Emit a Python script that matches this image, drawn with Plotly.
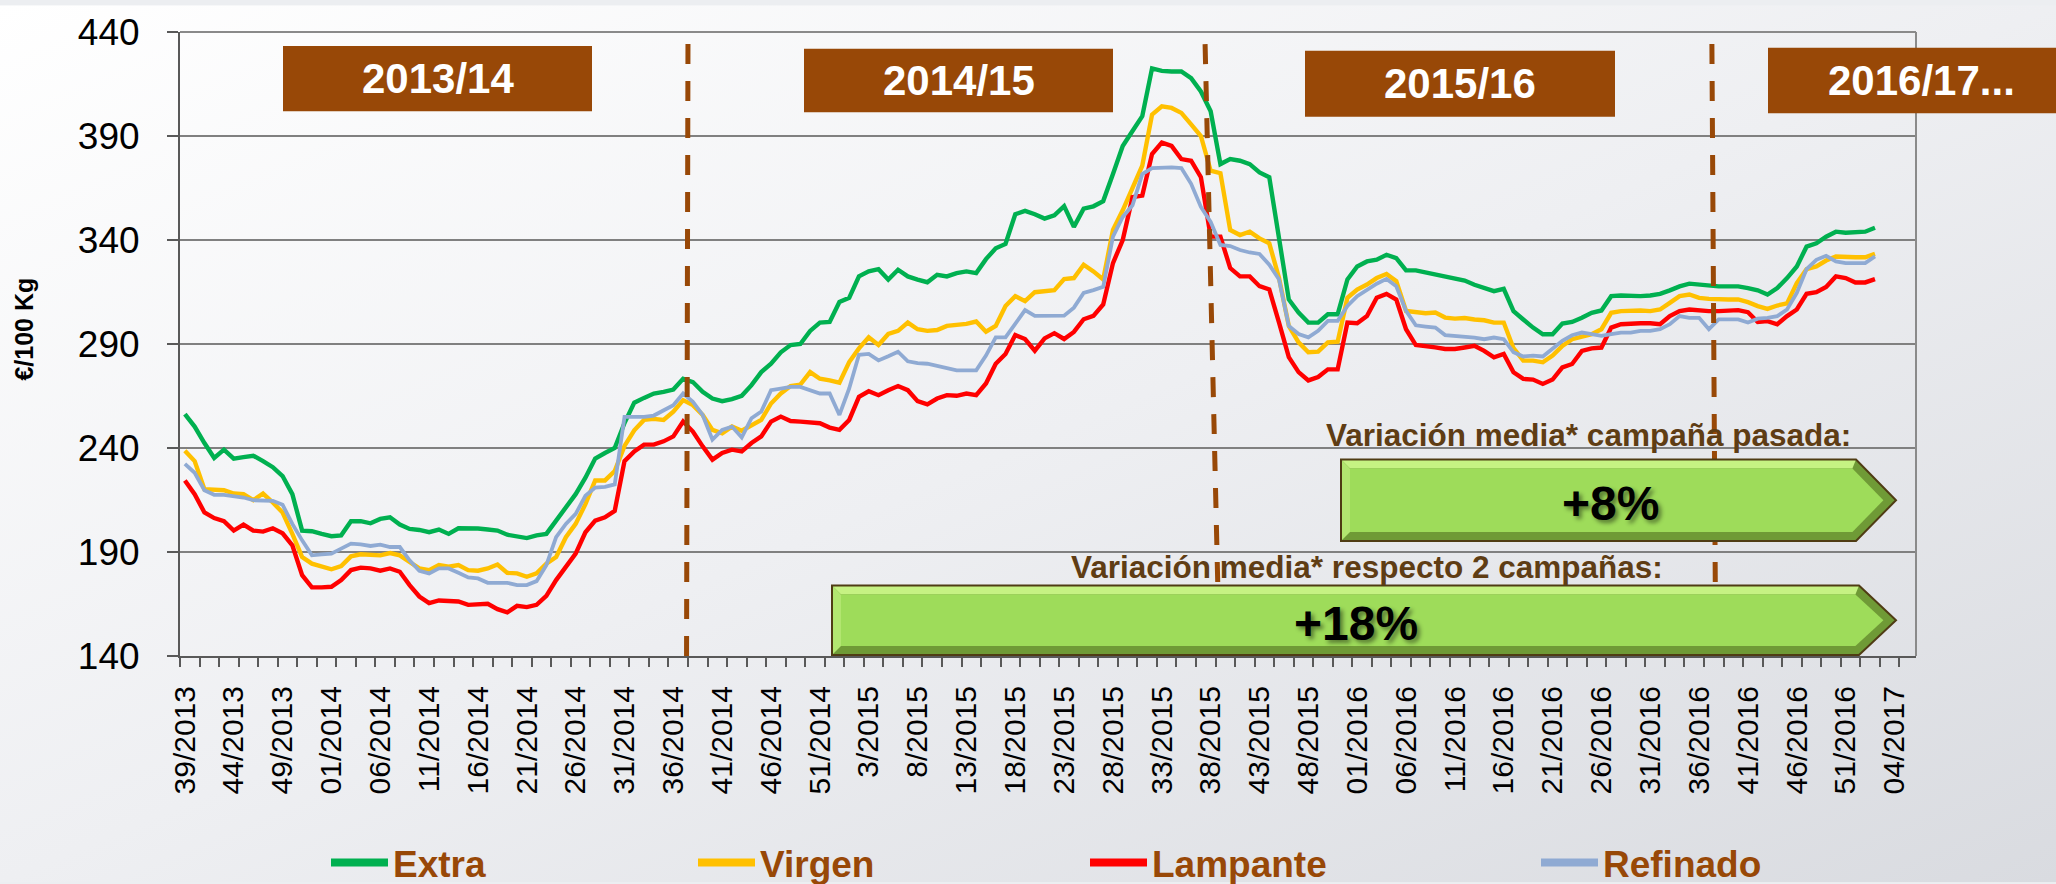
import base64
import plotly.graph_objects as go

# ---------------- data ----------------
week_labels = ["39/2013", "44/2013", "49/2013", "01/2014", "06/2014", "11/2014", "16/2014",
               "21/2014", "26/2014", "31/2014", "36/2014", "41/2014", "46/2014", "51/2014",
               "3/2015", "8/2015", "13/2015", "18/2015", "23/2015", "28/2015", "33/2015",
               "38/2015", "43/2015", "48/2015", "01/2016", "06/2016", "11/2016", "16/2016",
               "21/2016", "26/2016", "31/2016", "36/2016", "41/2016", "46/2016", "51/2016",
               "04/2017"]
label_step = 5

extra = [256.3, 250.3, 242.4, 235.2, 239.2, 234.9, 235.6, 236.3, 233.7, 230.8,
         226.5, 217.8, 200.3, 200.0, 198.7, 197.6, 198.0, 204.8, 204.8, 203.8,
         205.9, 206.7, 203.2, 201.1, 200.6, 199.5, 200.8, 198.7, 201.4, 201.4,
         201.3, 200.8, 200.3, 198.3, 197.6, 196.7, 198.0, 198.7, 205.1, 211.4,
         217.8, 225.7, 234.9, 237.6, 240.0, 252.0, 261.8, 264.1, 266.2, 267.0,
         268.1, 273.3, 271.7, 267.0, 263.8, 262.5, 263.5, 265.1, 270.2, 276.5,
         280.5, 286.0, 289.5, 290.0, 296.3, 300.3, 300.6, 310.2, 312.2, 322.5,
         324.9, 326.0, 321.0, 325.7, 322.5, 321.0, 319.7, 323.3, 322.5, 324.1,
         324.9, 324.1, 330.8, 336.0, 338.1, 352.4, 354.0, 352.4, 350.3, 351.9,
         356.3, 346.3, 355.1, 356.2, 358.7, 371.7, 385.2, 392.4, 399.5, 422.5,
         421.3, 421.0, 421.0, 417.8, 411.4, 401.9, 376.5, 378.9, 378.1, 376.5,
         372.5, 370.2, 341.6, 311.4, 305.1, 300.3, 300.3, 304.3, 304.3, 321.0,
         327.3, 329.7, 330.5, 332.9, 331.3, 325.4, 325.4, 324.4, 323.8, 322.9,
         321.7, 320.5, 318.5, 316.9, 315.4, 316.5, 305.8, 301.8, 297.9, 294.7,
         294.7, 299.8, 300.6, 302.6, 305.0, 306.1, 313.0, 313.3, 313.0, 313.0,
         313.3, 314.1, 315.8, 317.7, 319.0, 318.5, 318.1, 317.7, 317.7, 317.7,
         316.9, 315.8, 313.8, 316.9, 321.7, 327.3, 336.8, 338.4, 341.6, 344.0,
         343.5, 343.5, 344.0, 345.9]

virgen = [238.7, 233.7, 220.2, 219.7, 219.7, 218.1, 217.8, 214.9, 218.1, 213.8,
          209.0, 198.7, 187.6, 184.4, 183.2, 181.7, 183.2, 187.9, 188.9, 188.9,
          188.4, 189.5, 188.4, 185.2, 182.1, 181.3, 183.7, 182.9, 183.7, 181.3,
          181.0, 182.1, 184.0, 180.0, 179.7, 178.1, 179.7, 184.4, 187.6, 197.1,
          203.5, 213.0, 224.4, 224.4, 228.9, 241.0, 248.5, 253.5, 254.0, 253.5,
          257.5, 263.0, 260.6, 255.9, 248.7, 247.1, 250.3, 248.3, 251.1, 253.5,
          261.4, 266.2, 269.8, 270.5, 276.5, 273.3, 272.5, 271.4, 281.3, 287.9,
          293.2, 289.5, 294.8, 296.3, 300.3, 297.1, 296.3, 296.7, 298.7, 299.0,
          299.7, 300.8, 295.9, 298.7, 308.3, 313.0, 310.6, 314.9, 315.4, 315.9,
          321.2, 321.7, 328.1, 324.9, 321.0, 344.8, 354.3, 364.6, 375.7, 400.3,
          404.3, 403.5, 401.1, 395.6, 390.0, 373.3, 372.1, 344.8, 342.4, 344.0,
          340.8, 338.4, 321.7, 298.7, 290.8, 286.0, 286.3, 290.8, 291.1, 312.2,
          316.2, 318.6, 321.7, 323.7, 320.2, 305.9, 305.1, 304.8, 305.1, 302.7,
          302.2, 302.5, 301.8, 301.4, 300.3, 300.3, 288.0, 282.0, 282.0, 281.2,
          284.4, 289.1, 292.3, 293.6, 294.7, 297.1, 305.0, 305.8, 306.1, 306.1,
          305.8, 306.6, 309.8, 313.0, 313.8, 312.2, 311.7, 311.4, 311.4, 311.4,
          310.1, 308.2, 306.9, 308.5, 309.5, 319.3, 326.0, 327.3, 330.1, 332.1,
          331.7, 331.7, 331.7, 333.3]

lampante = [224.4, 217.8, 209.0, 206.3, 204.8, 200.3, 203.2, 200.3, 199.8, 201.4,
            199.0, 193.2, 178.9, 173.0, 173.0, 173.3, 176.5, 181.3, 182.5, 182.1,
            181.0, 182.1, 180.5, 174.1, 168.6, 165.4, 166.7, 166.7, 166.2, 164.6,
            164.6, 165.1, 162.5, 161.0, 164.1, 163.5, 164.6, 168.9, 176.5, 182.9,
            189.2, 199.5, 205.1, 206.7, 209.8, 233.7, 238.4, 241.6, 241.6, 243.2,
            245.6, 252.7, 247.9, 240.8, 234.4, 237.6, 239.2, 238.4, 242.4, 245.6,
            252.7, 255.1, 253.0, 252.7, 252.4, 251.9, 249.8, 248.7, 253.5, 264.6,
            267.3, 265.4, 267.8, 269.8, 267.8, 262.5, 261.0, 263.8, 265.4, 265.1,
            266.2, 265.4, 271.0, 280.5, 285.2, 294.3, 292.4, 286.8, 292.7, 295.2,
            292.4, 295.8, 301.9, 303.5, 309.0, 328.9, 340.0, 360.6, 361.4, 381.3,
            386.8, 385.2, 378.9, 378.1, 370.2, 341.6, 341.6, 326.5, 322.5, 322.5,
            317.8, 316.2, 300.3, 283.7, 276.5, 272.5, 274.1, 277.8, 277.8, 300.3,
            300.0, 303.5, 312.2, 314.1, 311.4, 297.1, 289.5, 289.2, 288.4, 287.6,
            287.6, 288.3, 289.1, 286.7, 283.6, 285.2, 276.4, 273.2, 272.9, 270.8,
            272.9, 278.8, 280.4, 286.7, 287.9, 288.3, 297.9, 299.5, 300.0, 300.0,
            300.0, 299.5, 303.4, 305.8, 306.6, 306.1, 305.8, 305.8, 305.8, 306.3,
            305.3, 300.6, 301.0, 299.5, 303.4, 306.6, 314.1, 314.9, 317.4, 322.5,
            321.7, 319.6, 319.6, 321.2]

refinado = [232.4, 228.1, 219.7, 217.5, 217.5, 217.0, 216.2, 214.9, 214.9, 214.6,
            212.7, 203.5, 195.6, 188.4, 188.9, 189.2, 191.6, 194.0, 193.7, 192.9,
            193.5, 192.4, 192.4, 186.0, 181.0, 179.7, 182.1, 182.1, 180.0, 177.8,
            177.3, 175.2, 175.2, 175.2, 174.1, 174.1, 176.0, 183.7, 197.1, 203.5,
            208.3, 217.0, 221.0, 221.3, 222.5, 255.0, 255.0, 255.0, 255.6, 258.3,
            260.6, 266.2, 262.2, 255.9, 244.0, 248.7, 250.3, 245.1, 254.3, 257.5,
            267.8, 268.6, 269.4, 269.4, 267.8, 266.2, 266.2, 255.9, 268.6, 284.8,
            285.2, 282.1, 284.1, 286.3, 281.7, 280.8, 280.5, 279.4, 278.4, 277.3,
            277.3, 277.3, 284.4, 293.2, 293.2, 299.5, 306.3, 303.5, 303.5, 303.5,
            303.6, 307.5, 314.6, 315.9, 317.5, 341.6, 351.1, 356.7, 371.7, 374.6,
            374.9, 374.9, 374.6, 367.0, 355.9, 348.7, 337.6, 337.1, 335.2, 334.0,
            333.3, 328.1, 321.0, 298.7, 294.8, 293.2, 296.3, 301.1, 301.1, 308.3,
            313.0, 316.2, 319.0, 321.3, 317.8, 305.9, 299.0, 298.4, 297.9, 294.3,
            294.0, 293.8, 293.1, 292.3, 293.1, 292.3, 286.0, 284.0, 284.4, 284.0,
            287.5, 291.5, 294.2, 295.5, 294.7, 293.9, 294.7, 295.5, 295.5, 296.3,
            296.3, 297.1, 299.5, 303.4, 302.6, 302.6, 297.1, 301.8, 301.8, 301.8,
            300.3, 302.2, 302.6, 303.4, 306.6, 314.6, 326.0, 330.5, 332.4, 329.7,
            328.9, 328.9, 328.9, 332.1]

series_names = ["Extra", "Virgen", "Lampante", "Refinado"]
series_values = [extra, virgen, lampante, refinado]
series_colors = ["#00B050", "#FFC000", "#FF0000", "#8FAAD3"]

campaigns = ["2013/14", "2014/15", "2015/16", "2016/17..."]
variation_labels = ["Variación media* campaña pasada:", "Variación media* respecto 2 campañas:"]
variation_values = ["+8%", "+18%"]

y_title = "€/100 Kg"

# ---------------- layout constants (pixels) ----------------
W, H = 2056, 884
L, R, T, B = 180, 140, 27, 228
PW, PH = W - L - R, H - T - B
FONT = "Liberation Sans, Arial, sans-serif"
BROWN = "#984807"


def px(x):
    return (x - L) / PW


def py(y):
    return (H - B - y) / PH


fig = go.Figure()

# background gradient
svg = ('<svg xmlns="http://www.w3.org/2000/svg" width="2056" height="884" viewBox="0 0 2056 884" '
       'preserveAspectRatio="none"><defs><linearGradient id="g" x1="0" y1="0" x2="1" y2="1">'
       '<stop offset="0" stop-color="#ffffff"/><stop offset="0.5" stop-color="#eeeff2"/>'
       '<stop offset="1" stop-color="#d9dbe0"/></linearGradient></defs>'
       '<rect width="2056" height="884" fill="url(#g)"/></svg>')
src = "data:image/svg+xml;base64," + base64.b64encode(svg.encode()).decode()
fig.add_layout_image(dict(source=src, xref="paper", yref="paper", x=px(0), y=py(0),
                          sizex=W / PW, sizey=H / PH, sizing="stretch",
                          xanchor="left", yanchor="top", layer="below"))

legend_x_px = [326, 693, 1085, 1536]
line_widths = [4.4, 4.4, 4.4, 3.8]
for k, (name, vals, col) in enumerate(zip(series_names, series_values, series_colors)):
    lg = "legend" if k == 0 else f"legend{k + 1}"
    fig.add_trace(go.Scatter(x=list(range(len(vals))), y=vals, mode="lines", name=name,
                             line=dict(color=col, width=line_widths[k]), showlegend=False))
    fig.add_trace(go.Scatter(x=[None], y=[None], mode="lines", name=name, legend=lg,
                             line=dict(color=col, width=8), showlegend=True))
    fig.update_layout(**{lg: dict(x=legend_x_px[k] / W, y=1 - 863 / H, xref="container",
                                  yref="container", xanchor="left", yanchor="middle",
                                  orientation="h", bgcolor="rgba(0,0,0,0)", borderwidth=0,
                                  itemwidth=57,
                                  font=dict(family=FONT, size=37, color=BROWN, weight="bold"))})

shapes = []
# borders
shapes.append(dict(type="line", xref="paper", yref="paper", x0=0, x1=1, y0=1, y1=1,
                   line=dict(color="#8a8a8a", width=2)))
shapes.append(dict(type="line", xref="paper", yref="paper", x0=1, x1=1, y0=0, y1=1,
                   line=dict(color="#8a8a8a", width=2)))
# campaign separators (bottom x, top x in category units)
separators = [(51.35, 51.5), (105.9, 104.4), (156.7, 156.3)]
for xb, xt in separators:
    shapes.append(dict(type="line", xref="x", yref="paper", x0=xb, x1=xt, y0=0, y1=1,
                       line=dict(color=BROWN, width=5, dash="20px,17px")))
# campaign boxes
boxes = [(283, 592, 41, 107), (804, 1113, 44, 108), (1305, 1615, 46, 112.5), (1768, 2080, 43, 109)]
for x0, x1, y0, y1 in boxes:
    shapes.append(dict(type="rect", xref="paper", yref="paper", x0=px(x0), x1=px(x1),
                       y0=py(y1), y1=py(y0), fillcolor=BROWN, line=dict(width=0)))


def poly(pts):
    return "M " + " L ".join(f"{px(a)},{py(b)}" for a, b in pts) + " Z"


arrows = [(1341, 1856, 1896, 458, 540), (832, 1859, 1896, 585, 655)]
for x0, xb, xt, y0, y1 in arrows:
    ym = (y0 + y1) / 2
    d = 9
    outer = [(x0, y0), (xb, y0), (xt, ym), (xb, y1), (x0, y1)]
    top = [(x0, y0), (xb, y0), (xb - 0.4 * d, y0 + d), (x0 + d, y0 + d)]
    left = [(x0, y0), (x0 + d, y0 + d), (x0 + d, y1 - d), (x0, y1)]
    inner = [(x0 + d, y0 + d), (xb - 0.4 * d, y0 + d), (xt - 1.4 * d, ym), (xb - 0.4 * d, y1 - d), (x0 + d, y1 - d)]
    shapes.append(dict(type="path", xref="paper", yref="paper", path=poly(outer),
                       fillcolor="#6f9a36", line=dict(width=0)))
    shapes.append(dict(type="path", xref="paper", yref="paper", path=poly(top),
                       fillcolor="#c6f283", line=dict(width=0)))
    shapes.append(dict(type="path", xref="paper", yref="paper", path=poly(left),
                       fillcolor="#b2e670", line=dict(width=0)))
    shapes.append(dict(type="path", xref="paper", yref="paper", path=poly(inner),
                       fillcolor="#9edc5a", line=dict(width=0)))
    shapes.append(dict(type="path", xref="paper", yref="paper", path=poly(outer),
                       fillcolor="rgba(0,0,0,0)", line=dict(color="#4f3c14", width=2)))

annotations = []
box_text_x = [438, 959, 1460, 1922]
for (x0, x1, y0, y1), cx, txt in zip(boxes, box_text_x, campaigns):
    annotations.append(dict(x=px(cx), y=py((y0 + y1) / 2), xref="paper", yref="paper",
                            xanchor="center", yanchor="middle",
                            text=f"<b>{txt}</b>", showarrow=False,
                            font=dict(family=FONT, size=42, color="white")))
var_pos = [(1588, 433), (1367, 566)]
for (cx, cy), txt in zip(var_pos, variation_labels):
    annotations.append(dict(x=px(cx), y=py(cy), xref="paper", yref="paper",
                            xanchor="center", yanchor="middle",
                            text=f"<b>{txt}</b>", showarrow=False,
                            font=dict(family=FONT, size=31.5, color="#5f3d14")))
pct_pos = [(1610, 502), (1356, 623)]
for (cx, cy), txt in zip(pct_pos, variation_values):
    annotations.append(dict(x=px(cx), y=py(cy), xref="paper", yref="paper",
                            xanchor="center", yanchor="middle",
                            text=f"<b>{txt}</b>", showarrow=False,
                            font=dict(family=FONT, size=48, color="black",
                                      shadow="3px 3px 4px rgba(0,0,0,0.45)")))
annotations.append(dict(x=px(24), y=py(327), xref="paper", yref="paper",
                        xanchor="center", yanchor="middle",
                        text=f"<b>{y_title}</b>", textangle=-90, showarrow=False,
                        font=dict(family=FONT, size=25, color="black")))

fig.update_layout(
    width=W, height=H,
    margin=dict(l=L, r=R, t=T, b=B),
    paper_bgcolor="#eceef1",
    plot_bgcolor="rgba(0,0,0,0)",
    font=dict(family=FONT, color="black"),
    shapes=shapes,
    annotations=annotations,
    xaxis=dict(range=[-0.5, 177.2], tickmode="array",
               tickvals=[i * label_step for i in range(len(week_labels))],
               ticktext=week_labels, tickangle=-90, ticks="",
               tickfont=dict(family=FONT, size=30, color="black"),
               ticklabelstandoff=16,
               minor=dict(tick0=-0.5, dtick=2, ticks="outside", ticklen=9,
                          tickcolor="#595959", tickwidth=1.5),
               showgrid=False, showline=True, linecolor="#595959", linewidth=2,
               zeroline=False),
    yaxis=dict(range=[140, 440], tickmode="array", tickvals=[140, 190, 240, 290, 340, 390, 440],
               ticks="outside", ticklen=11, tickcolor="#595959", tickwidth=1.5,
               tickfont=dict(family=FONT, size=37, color="black"),
               ticklabelstandoff=20,
               showgrid=True, gridcolor="#808080", gridwidth=2,
               showline=True, linecolor="#595959", linewidth=2, zeroline=False),
)

fig.write_html("out.html",
               config={"displayModeBar": False},
               post_script="document.body.style.margin='0';document.body.style.padding='0';"
                           "document.body.style.overflow='hidden';")
